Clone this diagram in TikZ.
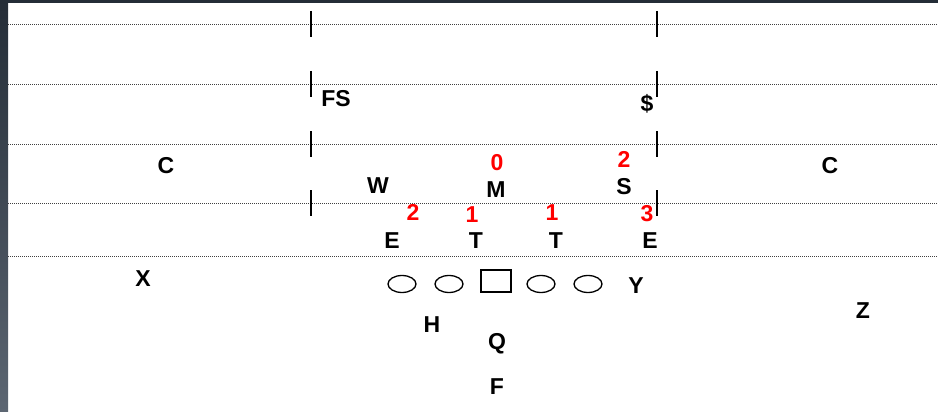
\documentclass[tikz,border=0pt]{standalone}
\usepackage{fontspec}
\setmainfont{Liberation Sans}
\usepackage{xcolor}
\definecolor{framedark}{RGB}{36, 45, 55}
\definecolor{framelight}{RGB}{92, 102, 114}
\definecolor{gapred}{RGB}{255, 0, 0}
\usetikzlibrary{shapes.geometric}

\begin{document}
\begin{tikzpicture}[x=1pt, y=-1pt,
  player/.style={font=\bfseries\fontsize{23}{23}\selectfont, inner sep=0pt},
  gapnum/.style={font=\bfseries\fontsize{23}{23}\selectfont, text=gapred, inner sep=0pt},
  lineman/.style={draw, line width=1.3pt, ellipse, minimum width=28, minimum height=17, inner sep=0pt},
  center/.style={draw, line width=1.3pt, rectangle, minimum width=30, minimum height=22, inner sep=0pt},
  yardline/.style={line width=0.8pt, black!75, dash pattern=on 1pt off 1pt},
  hashmark/.style={line width=1.3pt}]
  \useasboundingbox (0,0) rectangle (938,412);

  % Frame
  \fill[framedark] (0,0) rectangle (938,3);
  \shade[top color=framedark, bottom color=framelight] (0,0) rectangle (8,412);

  % Yard lines
  \foreach \y in {24, 84, 144, 203, 256}
    \draw[yardline] (8,\y) -- (938,\y);

  % Hash marks
  \foreach \y in {24, 84, 144, 203} {
    \draw[hashmark] (311,\y-13) -- (311,\y+13);
    \draw[hashmark] (657,\y-13) -- (657,\y+13);
  }

  % Secondary
  \node[player] (cl) at (166,166) {C};
  \node[player] (cr) at (830,166) {C};
  \node[player] (fs) at (336,99) {FS};
  \node[player] (ss) at (647,104) {\$};

  % Linebackers
  \node[player] (w) at (378,186) {W};
  \node[player] (m) at (496,190) {M};
  \node[player] (s) at (624,187) {S};

  % Defensive line
  \node[player] (el) at (392,241) {E};
  \node[player] (tl) at (476,241) {T};
  \node[player] (tr) at (556,241) {T};
  \node[player] (er) at (650,241) {E};

  % Gap numbers
  \node[gapnum] (gm) at (497,163) {0};
  \node[gapnum] (gs) at (624,159) {2};
  \node[gapnum] (gel) at (413,212) {2};
  \node[gapnum] (gtl) at (472,215) {1};
  \node[gapnum] (gtr) at (552,213) {1};
  \node[gapnum] (ger) at (647,214) {3};

  % Offensive line
  \node[lineman] (lt) at (402,284) {};
  \node[lineman] (lg) at (449,284) {};
  \node[center] (c) at (496,281) {};
  \node[lineman] (rg) at (541,284) {};
  \node[lineman] (rt) at (588,284) {};

  % Skill players
  \node[player] (x) at (143,279) {X};
  \node[player] (y) at (636,286) {Y};
  \node[player] (z) at (863,311) {Z};
  \node[player] (h) at (432,325) {H};
  \node[player] (q) at (497,344) {Q};
  \node[player] (f) at (497,387) {F};
\end{tikzpicture}
\end{document}
